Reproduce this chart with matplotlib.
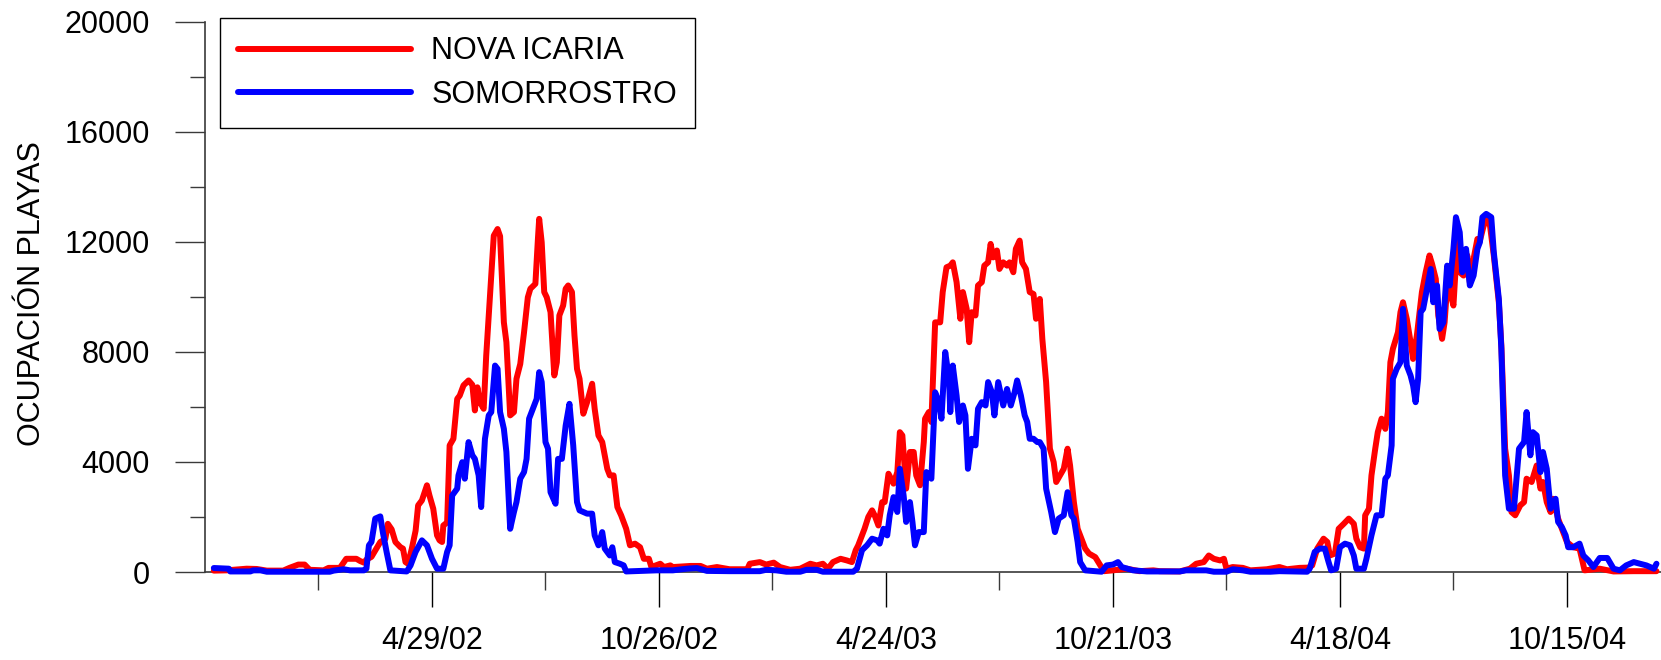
import matplotlib
matplotlib.use("Agg")
import matplotlib.pyplot as plt
import pandas as pd
import numpy as np

plt.rcParams['font.family'] = ['Liberation Sans', 'DejaVu Sans']

start_date = "2001-10-31"

# NOVA ICARIA: days since start_date, occupancy
nova_days = [7, 17, 33, 41, 49, 62, 67, 74, 79, 83, 94, 98, 107, 112, 120, 123, 126, 128, 132,
             139, 143, 145, 148, 151, 155, 157, 159, 161, 164, 167, 169, 172, 176, 178, 181, 184,
             186, 188, 189, 192, 194, 197, 200, 202, 205, 209, 212, 214, 216, 218, 221, 223, 226,
             229, 232, 234, 237, 239, 242, 245, 247, 250, 253, 256, 258, 262, 264, 265, 267, 269,
             271, 274, 277, 279, 281, 284, 286, 288, 291, 293, 295, 297, 300, 303, 307, 309, 312,
             315, 319, 321, 324, 327, 330, 334, 337, 341, 345, 348, 352, 354, 361, 364, 369, 371,
             385, 393, 398, 406, 416, 430, 432, 440, 445, 451, 456, 464, 472, 480, 485, 490, 494,
             498, 504, 509, 513, 516, 518, 521, 523, 526, 529, 531, 534, 537, 539, 542, 546, 549,
             551, 553, 556, 559, 562, 564, 567, 570, 571, 574, 576, 579, 583, 585, 588, 591, 593,
             596, 599, 601, 604, 606, 608, 611, 613, 616, 618, 621, 623, 625, 628, 630, 633, 636,
             638, 641, 643, 646, 648, 651, 654, 657, 659, 662, 664, 667, 670, 673, 675, 678, 681,
             684, 686, 689, 692, 694, 698, 701, 706, 710, 713, 720, 731, 741, 752, 757, 773, 781,
             786, 792, 796, 800, 805, 808, 810, 815, 823, 829, 842, 852, 858, 868, 875, 878, 882,
             887, 890, 892, 896, 899, 903, 907, 911, 913, 916, 919, 920, 923, 925, 928, 930, 933,
             936, 938, 940, 942, 946, 948, 950, 953, 956, 958, 961, 965, 968, 971, 973, 976, 978,
             981, 983, 986, 988, 990, 993, 995, 998, 1001, 1003, 1006, 1009, 1011, 1014, 1016,
             1019, 1022, 1026, 1028, 1031, 1034, 1036, 1039, 1043, 1046, 1048, 1052, 1056, 1059,
             1061, 1064, 1067, 1069, 1073, 1076, 1080, 1085, 1090, 1094, 1106, 1117, 1133, 1151]
nova_vals = [50, 60, 120, 110, 50, 50, 150, 270, 270, 80, 60, 150, 150, 480, 480, 400, 340, 450, 550,
             1090, 1200, 1750, 1550, 1090, 900, 850, 360, 300, 850, 1500, 2420, 2600, 3150, 2780, 2300, 1330,
             1150, 1090, 1690, 1800, 4600, 4840, 6290, 6410, 6780, 6960, 6800, 5870, 6710, 6170, 5930, 7860, 10040,
             12220, 12460, 12200, 9070, 8350, 5690, 5810, 7020, 7560, 8710, 9980, 10290, 10470, 12100, 12830, 11980, 10170,
             9980, 9440, 7140, 7620, 9320, 9680, 10290, 10410, 10170, 8590, 7380, 7020, 5750, 6170, 6840, 5930, 4960,
             4720, 3750, 3510, 3510, 2360, 2060, 1570, 970, 1030, 900, 480, 480, 180, 300, 180, 240, 180,
             220, 220, 120, 180, 100, 100, 300, 360, 270, 340, 180, 80, 120, 300, 240, 300, 120,
             360, 480, 420, 360, 790, 970, 1330, 1570, 2000, 2240, 2060, 1690, 2540, 2540, 3570, 3210, 3630,
             5080, 4960, 3030, 4360, 4360, 3510, 3150, 4720, 5570, 5810, 5450, 9070, 9070, 10170, 11070, 11130, 11250,
             10530, 9200, 10170, 9560, 8350, 9440, 9320, 10410, 10530, 11130, 11250, 11920, 11430, 11680, 11010, 11250, 11130,
             11250, 10890, 11740, 12040, 11250, 11010, 10170, 10100, 9200, 9920, 8470, 6900, 4480, 3990, 3270, 3510, 3750,
             4480, 3870, 2540, 1570, 1330, 850, 670, 540, 240, 30, 60, 120, 30, 60, 30, 20, 120,
             300, 360, 600, 480, 420, 480, 120, 180, 150, 60, 100, 180, 100, 150, 160, 240, 850,
             1210, 1090, 600, 670, 1570, 1750, 1940, 1750, 1210, 900, 850, 2060, 2300, 3510, 4480, 5080, 5570,
             5200, 5810, 7620, 8110, 8710, 9440, 9800, 9200, 8350, 7740, 8590, 10170, 10890, 11500, 11200, 10650, 9320,
             8470, 9070, 11010, 10050, 9680, 11980, 10890, 10770, 11500, 10530, 11380, 12100, 12040, 12580, 12830,
             12580, 11500, 9800, 8230, 4480, 3510, 2180, 2060, 2420, 2540, 3390, 3270, 3870, 3030,
             3270, 2540, 2180, 2660, 1940, 1570, 1090, 900, 850, 60, 120, 20, 30, 30]

# SOMORROSTRO: days since start_date, occupancy
somo_days = [7, 19, 20, 36, 38, 44, 49, 99, 102, 110, 115, 126, 128, 130, 132, 135, 139, 141, 144,
             147, 160, 163, 167, 172, 176, 180, 184, 189, 192, 194, 196, 200, 201, 204, 206, 209,
             212, 214, 217, 219, 222, 225, 227, 230, 232, 234, 237, 239, 242, 245, 247, 250, 253,
             255, 257, 260, 263, 265, 267, 270, 272, 274, 278, 280, 283, 286, 289, 292, 295, 297,
             303, 307, 309, 312, 315, 317, 321, 323, 325, 329, 332, 334, 345, 358, 371, 382, 390,
             398, 416, 440, 445, 453, 461, 472, 477, 485, 490, 514, 517, 521, 525, 529, 533, 535,
             538, 541, 543, 546, 549, 551, 554, 556, 559, 561, 563, 566, 570, 572, 576, 579, 582,
             584, 587, 590, 591, 593, 596, 598, 601, 603, 605, 608, 611, 613, 616, 619, 621, 624,
             626, 629, 633, 636, 639, 642, 644, 647, 650, 652, 654, 657, 660, 662, 665, 667, 671,
             674, 677, 681, 684, 687, 689, 692, 694, 698, 711, 715, 720, 724, 727, 736, 747, 773,
             778, 794, 800, 810, 815, 823, 829, 845, 852, 874, 876, 880, 884, 888, 891, 893, 897,
             900, 904, 908, 911, 913, 919, 921, 925, 929, 933, 936, 938, 941, 942, 945, 948, 950,
             953, 956, 958, 960, 962, 964, 966, 968, 972, 974, 977, 979, 982, 985, 987, 990, 992,
             995, 997, 1000, 1003, 1006, 1009, 1011, 1013, 1016, 1020, 1022, 1026, 1028, 1031, 1034,
             1038, 1042, 1046, 1048, 1051, 1053, 1056, 1059, 1061, 1064, 1067, 1071, 1073, 1076,
             1079, 1081, 1085, 1090, 1093, 1097, 1101, 1106, 1112, 1117, 1122, 1127, 1133, 1138,
             1143, 1149, 1151]
somo_vals = [145, 120, 20, 20, 60, 60, 10, 10, 50, 100, 60, 60, 120, 970, 1090, 1940, 2020, 1450, 730,
             60, 20, 240, 730, 1150, 970, 480, 120, 120, 730, 970, 2780, 3030, 3510, 3990, 3390, 4720,
             4240, 4110, 3510, 2360, 4840, 5690, 5810, 7500, 7380, 5810, 5200, 4360, 1570, 2180, 2540, 3390, 3630,
             4110, 5570, 5930, 6290, 7260, 6900, 4720, 4480, 2900, 2480, 4110, 4110, 5320, 6110, 4600, 2540, 2240,
             2120, 2120, 1330, 970, 1450, 850, 600, 900, 360, 300, 240, 20, 40, 60, 60, 120, 145,
             40, 30, 30, 80, 60, 10, 10, 80, 80, 10, 10, 120, 790, 970, 1210, 1150, 1030,
             1570, 1330, 2060, 2720, 2180, 3750, 2780, 1820, 2540, 1820, 970, 1450, 1450, 3630, 3390, 6530, 6170,
             5570, 7990, 7020, 5810, 7500, 6410, 5450, 6050, 5690, 3750, 4840, 4600, 5930, 6170, 6050, 6900, 6530,
             5690, 6900, 6050, 6650, 6050, 6530, 6960, 6410, 5690, 5450, 4840, 4840, 4720, 4720, 4480, 3030,
             2180, 1450, 1940, 2060, 2900, 2060, 1940, 1090, 360, 60, 10, 240, 270, 360, 180, 60, 20, 20,
             60, 60, 10, 10, 100, 60, 10, 10, 30, 10, 120, 730, 850, 850, 360, 60, 120,
             900, 1030, 970, 600, 120, 120, 480, 1330, 2060, 2060, 3390, 3510, 4600, 7020, 7380, 7620, 9560,
             7500, 7140, 6780, 6170, 7020, 9440, 9560, 10040, 11010, 9800, 10410, 8830, 9070, 11130, 10410, 11740, 12890,
             12340, 10890, 11740, 10410, 10770, 11740, 11980, 12890, 13010, 12890, 11620, 9920, 8110, 3510, 2300,
             2300, 4480, 4720, 5810, 4240, 5080, 4960, 3630, 4360, 3750, 2300, 2660, 1820, 1630,
             1330, 900, 900, 1030, 600, 420, 180, 510, 510, 120, 60, 240, 360, 300,
             240, 120, 300]

series_labels = ["NOVA ICARIA", "SOMORROSTRO"]
series_colors = ["#ff0000", "#0000ff"]
y_label = "OCUPACIÓN PLAYAS"
x_tick_dates = ["2002-04-29", "2002-10-26", "2003-04-24", "2003-10-21", "2004-04-18", "2004-10-15"]
x_tick_labels = ["4/29/02", "10/26/02", "4/24/03", "10/21/03", "4/18/04", "10/15/04"]
x_minor_dates = ["2002-01-29", "2002-07-28", "2003-01-24", "2003-07-23", "2004-01-19", "2004-07-17"]
y_ticks = [0, 4000, 8000, 12000, 16000, 20000]

t0 = pd.Timestamp(start_date)
nova_x = t0 + pd.to_timedelta(nova_days, unit="D")
somo_x = t0 + pd.to_timedelta(somo_days, unit="D")

W, H = 1661, 660
fig = plt.figure(figsize=(W / 100, H / 100), dpi=100)
ax = fig.add_axes([205 / W, 88 / H, 1456 / W, (572 - 21.5) / H])

ax.plot(nova_x, nova_vals, color=series_colors[0], lw=4.3, label=series_labels[0],
        solid_joinstyle="round", solid_capstyle="round", clip_on=False, zorder=3)
ax.plot(somo_x, somo_vals, color=series_colors[1], lw=4.3, label=series_labels[1],
        solid_joinstyle="round", solid_capstyle="round", clip_on=False, zorder=4)

ax.set_xlim(t0, t0 + pd.Timedelta(days=1154.6))
ax.set_ylim(0, 20000)

ax.set_xticks(pd.to_datetime(x_tick_dates))
ax.set_xticklabels(x_tick_labels)
ax.set_xticks(pd.to_datetime(x_minor_dates), minor=True)
ax.set_yticks(y_ticks)
ax.set_yticklabels([str(v) for v in y_ticks])
ax.set_yticks(np.arange(2000, 20000, 4000), minor=True)

for s in ["top", "right"]:
    ax.spines[s].set_visible(False)
for s in ["left", "bottom"]:
    ax.spines[s].set_color("#3a3a3a")
    ax.spines[s].set_linewidth(1.2)

ax.tick_params(axis="y", which="major", direction="out", length=21.6, width=1, color="#3a3a3a",
               pad=18, labelsize=22)
ax.tick_params(axis="y", which="minor", direction="out", length=10.8, width=1, color="#3a3a3a")
ax.tick_params(axis="x", which="major", direction="out", length=25, width=1, color="#000000",
               pad=14, labelsize=22)
ax.tick_params(axis="x", which="minor", direction="out", length=13, width=1, color="#3a3a3a")

fig.text(32 / W, 1 - 294 / H, y_label, rotation=90, ha="center", va="center", fontsize=22)

leg = ax.legend(loc="upper left", bbox_to_anchor=(220 / W, 1 - 18 / H), bbox_transform=fig.transFigure,
                fontsize=22, frameon=True, fancybox=False, framealpha=1, edgecolor="black",
                handlelength=5.66, handletextpad=0.65, borderpad=0.6, labelspacing=0.45,
                borderaxespad=0)
leg.get_frame().set_linewidth(1.0)
for line in leg.get_lines():
    line.set_linewidth(4.3)
    line.set_solid_capstyle("round")

fig.savefig("out.png", dpi=100)
